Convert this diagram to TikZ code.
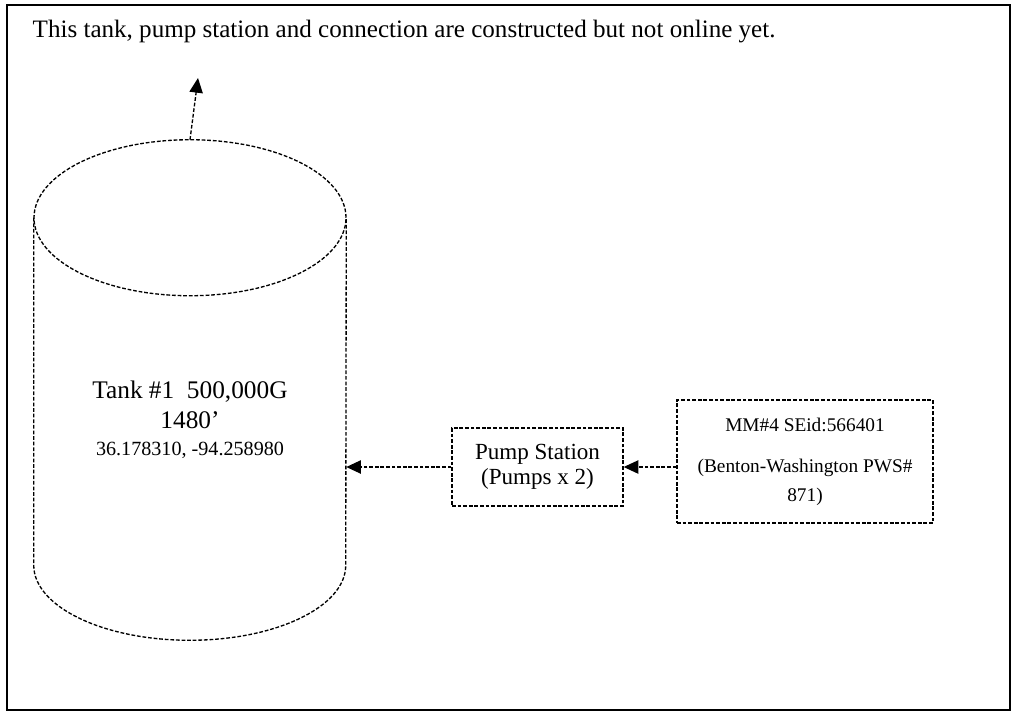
\documentclass[tikz,border=0pt]{standalone}
\usepackage{fontspec}
\setmainfont{Liberation Serif}
\usetikzlibrary{arrows.meta}
\tikzset{
  tankline/.style={draw=black, line width=1pt, dash pattern=on 2.8pt off 1.4pt},
  unitbox/.style={rectangle, draw=black, line width=1pt, dash pattern=on 2.8pt off 1.4pt,
                  align=center, inner sep=2pt},
  flow/.style={-{Triangle[length=11pt, width=10pt]}, line width=1pt,
               dash pattern=on 2.8pt off 1.4pt, draw=black},
  frame/.style={draw=black, line width=1.1pt},
}

\begin{document}
\begin{tikzpicture}[x=0.75pt, y=-0.75pt]
  \useasboundingbox (0,0) rectangle (1016,719);
  \draw[frame] (7,5) rectangle (1010,710);

  \node[anchor=base west, font=\fontsize{18.8}{22}\selectfont] (note) at (28,37)
    {This tank, pump station and connection are constructed but not online yet.};

  % --- tank (body node, outline drawn from its anchors)
  \node[rectangle, minimum width=234pt, minimum height=375pt, inner sep=0pt] (tank) at (190,390) {};
  \draw[tankline] ([yshift=-58.5pt]tank.north) ellipse [x radius=117pt, y radius=58.5pt];
  \draw[tankline] ([yshift=-58.5pt]tank.north west) -- ([yshift=56.25pt]tank.south west)
    arc[start angle=180, end angle=360, x radius=117pt, y radius=56.25pt]
    -- ([yshift=-58.5pt]tank.north east);
  \node[align=center, font=\fontsize{19}{22.5}\selectfont] (tanktext) at (190,420)
    {Tank \#1~~500,000G\\1480'\\[-2pt]{\fontsize{15.1}{19.5}\selectfont 36.178310, -94.258980}};
  \coordinate (up) at (198,78);

  % --- pump station and source
  \node[unitbox, minimum width=128.25pt, minimum height=58.5pt,
        font=\fontsize{17.3}{19}\selectfont] (pump) at (537.5,467) {Pump Station\\(Pumps x 2)};
  \node[unitbox, minimum width=192pt, minimum height=92.25pt,
        font=\fontsize{14.5}{21.75}\selectfont] (mm) at (805,461.5)
    {MM\#4 SEid:566401\\[9pt](Benton-Washington PWS\#\\871)};

  \draw[flow] (tank.north) -- (up);
  \draw[flow] (pump.west) -- (pump.west -| tank.east);
  \draw[flow] (pump.east -| mm.west) -- (pump.east);
\end{tikzpicture}
\end{document}
